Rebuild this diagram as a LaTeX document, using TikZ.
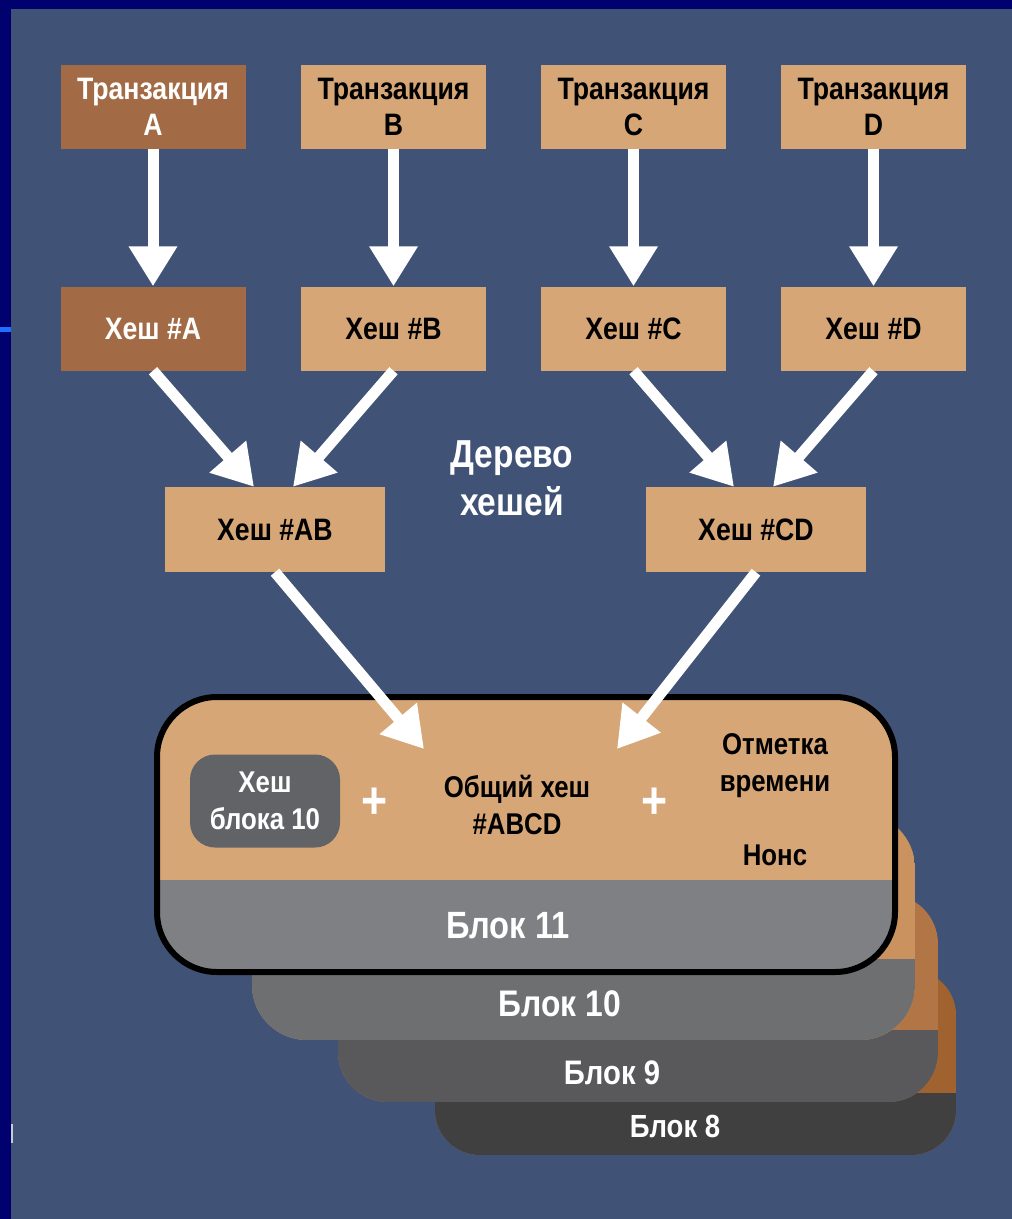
\documentclass[tikz,border=0pt]{standalone}
\usepackage{fontspec}
\setmainfont{Liberation Sans}[FakeStretch=0.86]
\usetikzlibrary{arrows.meta,calc}

\definecolor{navyframe}{HTML}{00006E}
\definecolor{slate}{HTML}{405275}
\definecolor{tickblue}{HTML}{1E6EFF}
\definecolor{tanbox}{HTML}{D6A676}
\definecolor{brownbox}{HTML}{A36B45}
\definecolor{innergray}{HTML}{626366}

\tikzset{
  hashbox/.style = {fill = tanbox, minimum width = 185pt, minimum height = 84pt, inner sep = 0pt, align = center, font = \fontsize{31}{36}\selectfont\bfseries},
  darkbox/.style = {hashbox, fill = brownbox, text = white},
  bigarrow/.style = {draw = white, line width = 11pt, -{Triangle[width = 46pt, length = 40pt]}},
  blocktext/.style = {align = center, font = \fontsize{30}{37}\selectfont\bfseries}
}

\begin{document}
\begin{tikzpicture}[x = 1pt, y = -1pt]
\useasboundingbox (0,0) rectangle (1012,1219);
\fill [navyframe] (0,0) rectangle (1012,1219);
\fill [slate] (11,9) rectangle (1012,1219);
\fill [tickblue] (0,327) rectangle (11,332);
\fill [white!70!slate] (11,1124) rectangle (13,1143);

\foreach \xa/\ya/\xb/\yb/\band/\r/\tint/\gray in {435/970/956/1155/62/45/A0632F/404040, 338/894/938/1102/72/50/B27545/59595B, 252/813/915/1040/81/55/C9925E/6E6F70, 157/697/895/972/92/60/D6A676/7F8083}
{
\definecolor{cardtop}{HTML}{\tint}
\definecolor{cardband}{HTML}{\gray}
\begin{scope}
\clip [rounded corners = \r pt] (\xa,\ya) rectangle (\xb,\yb);
\fill [cardtop] (\xa,\ya) rectangle (\xb,\yb);
\fill [cardband] (\xa,\yb-\band) rectangle (\xb,\yb);
\end{scope}
}
\draw [black, line width = 6pt, rounded corners = 60pt] (157,697) rectangle (895,972);

\node [text = white, font = \fontsize{32}{34}\selectfont\bfseries] (b8) at (675,1126) {Блок 8};
\node [text = white, font = \fontsize{34}{36}\selectfont\bfseries] (b9) at (612,1073) {Блок 9};
\node [text = white, font = \fontsize{37}{39}\selectfont\bfseries] (b10) at (560,1004) {Блок 10};
\node [text = white, font = \fontsize{38}{40}\selectfont\bfseries] (b11) at (508,926) {Блок 11};

\node [blocktext, fill = innergray, text = white, rounded corners = 25pt, minimum width = 150pt, minimum height = 93pt, inner sep = 0pt] (prev) at (265,801) {Хеш\\блока 10};
\node [blocktext, text = white, font = \fontsize{52}{52}\selectfont\bfseries] (plus1) at (375,803) {+};
\node [blocktext] (root) at (517,805) {Общий хеш\\\#ABCD};
\node [blocktext, text = white, font = \fontsize{52}{52}\selectfont\bfseries] (plus2) at (655,803) {+};
\node [blocktext] (time) at (775,766) {Отметка\\времени};
\node [blocktext] (nonce) at (775,855) {Нонс};

\node [darkbox] (ta) at (153,106.5) {Транзакция\\A};
\node [hashbox] (tb) at (393.5,106.5) {Транзакция\\B};
\node [hashbox] (tc) at (633.5,106.5) {Транзакция\\C};
\node [hashbox] (td) at (873.5,106.5) {Транзакция\\D};

\node [darkbox] (ha) at (153,328.5) {Хеш \#A};
\node [hashbox] (hb) at (393.5,328.5) {Хеш \#B};
\node [hashbox] (hc) at (633.5,328.5) {Хеш \#C};
\node [hashbox] (hd) at (873.5,328.5) {Хеш \#D};

\node [hashbox, minimum width = 220pt, minimum height = 85pt] (hab) at (275,529.5) {Хеш \#AB};
\node [hashbox, minimum width = 220pt, minimum height = 85pt] (hcd) at (756,529.5) {Хеш \#CD};

\node [text = white, align = center, font = \fontsize{39}{48}\selectfont\bfseries] (tree) at (512,478) {Дерево\\хешей};

\foreach \t in {a,b,c,d} \draw [bigarrow] (t\t.south) -- (h\t.north);
\draw [bigarrow] (ha.south) -- ($(hab.north)+(-21,0)$);
\draw [bigarrow] (hb.south) -- ($(hab.north)+(18,0)$);
\draw [bigarrow] (hc.south) -- ($(hcd.north)+(-22,0)$);
\draw [bigarrow] (hd.south) -- ($(hcd.north)+(17,0)$);

\coordinate (inab) at (424,749);
\coordinate (incd) at (617,749);
\draw [bigarrow] (hab.south) -- (inab);
\draw [bigarrow] (hcd.south) -- (incd);
\end{tikzpicture}
\end{document}
